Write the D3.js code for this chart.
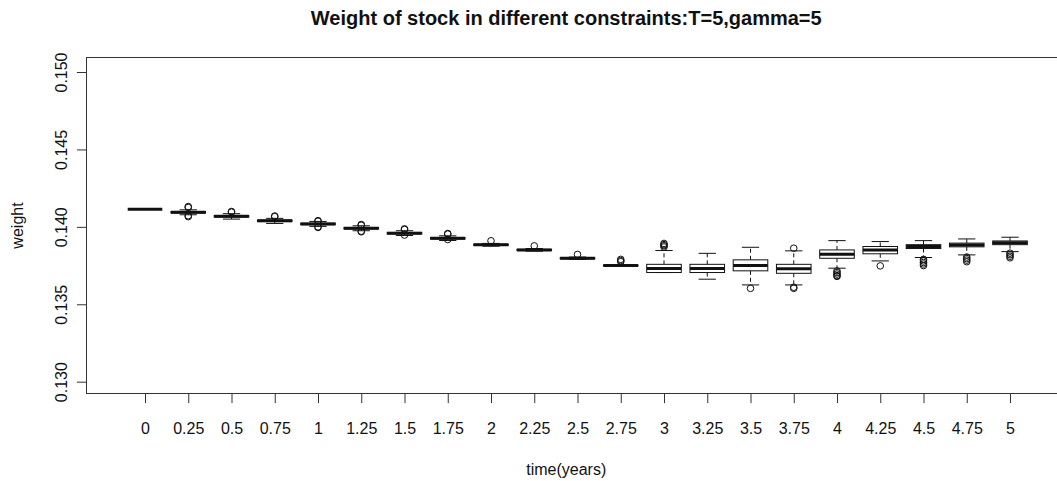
<!DOCTYPE html>
<html>
<head>
<meta charset="utf-8">
<script src="https://cdn.jsdelivr.net/npm/d3@7.9.0/dist/d3.min.js"></script>
<style>
  html, body { margin: 0; padding: 0; background: #fff; }
  svg { display: block; font-family: "Liberation Sans", Arial, sans-serif; }
</style>
</head>
<body>
<svg id="chart" width="1057" height="481"></svg>
<script>
// time points (x categories)
const times = ["0", "0.25", "0.5", "0.75", "1", "1.25", "1.5", "1.75", "2", "2.25", "2.5",
               "2.75", "3", "3.25", "3.5", "3.75", "4", "4.25", "4.5", "4.75", "5"];

// box statistics
const whiskerLo = [0.14114, 0.14078, 0.14050, 0.14022, 0.14003, 0.13975, 0.13944, 0.13912, 0.13875, 0.13843, 0.13790,
                   0.13745, 0.13705, 0.13662, 0.13625, 0.13625, 0.13733, 0.13780, 0.13802, 0.13819, 0.13840];
const q1        = [0.14114, 0.14089, 0.14063, 0.14034, 0.14014, 0.13986, 0.13954, 0.13921, 0.13880, 0.13847, 0.13793,
                   0.13747, 0.13705, 0.13705, 0.13716, 0.13700, 0.13797, 0.13826, 0.13860, 0.13871, 0.13885];
const median    = [0.14114, 0.14094, 0.14068, 0.14039, 0.14019, 0.13991, 0.13959, 0.13926, 0.13884, 0.13851, 0.13797,
                   0.13750, 0.13731, 0.13731, 0.13750, 0.13729, 0.13823, 0.13851, 0.13873, 0.13883, 0.13897];
const q3        = [0.14114, 0.14099, 0.14073, 0.14044, 0.14024, 0.13996, 0.13964, 0.13931, 0.13888, 0.13855, 0.13801,
                   0.13753, 0.13758, 0.13758, 0.13787, 0.13758, 0.13851, 0.13873, 0.13885, 0.13895, 0.13909];
const whiskerHi = [0.14114, 0.14110, 0.14085, 0.14055, 0.14035, 0.14007, 0.13975, 0.13942, 0.13893, 0.13860, 0.13805,
                   0.13755, 0.13847, 0.13829, 0.13868, 0.13845, 0.13911, 0.13905, 0.13911, 0.13922, 0.13933];
const outliers = [
  [],
  [0.14131, 0.14125, 0.14072, 0.14066],
  [0.14099, 0.14095],
  [0.14070, 0.14066],
  [0.14040, 0.14036, 0.14000, 0.13996],
  [0.14015, 0.14010, 0.13972, 0.13968],
  [0.13987, 0.13983, 0.13947],
  [0.13957, 0.13953, 0.13918],
  [0.13910],
  [0.13877],
  [0.13822],
  [0.13790, 0.13782, 0.13775],
  [0.13893, 0.13885, 0.13878, 0.13870],
  [],
  [0.13603],
  [0.13862, 0.13603, 0.13610],
  [0.13715, 0.13705, 0.13695, 0.13685, 0.13680],
  [0.13748],
  [0.13790, 0.13780, 0.13770, 0.13760, 0.13750],
  [0.13805, 0.13795, 0.13785, 0.13775],
  [0.13830, 0.13820, 0.13810, 0.13800]
];
const yTicks = [0.130, 0.135, 0.140, 0.145, 0.150];

const W = 1057, H = 481;
const frame = { left: 86.5, top: 57.5, bottom: 393.5, right: 1070 };
const ink = "#111";

const svg = d3.select("#chart");

const x = d3.scalePoint().domain(times).range([145, 1010]);
const y = d3.scaleLinear().domain([0.130, 0.150]).range([381.7, 72]);
const boxW = x.step() * 0.8;

const rows = times.map((t, i) => ({
  t, lo: whiskerLo[i], q1: q1[i], med: median[i], q3: q3[i], hi: whiskerHi[i], out: outliers[i]
}));

// frame
svg.append("rect")
  .attr("x", frame.left).attr("y", frame.top)
  .attr("width", frame.right - frame.left).attr("height", frame.bottom - frame.top)
  .attr("fill", "none").attr("stroke", "#333").attr("stroke-width", 1);

// axes
const xAxis = svg.append("g")
  .attr("transform", `translate(0,${frame.bottom})`)
  .call(d3.axisBottom(x).tickSize(9.6).tickSizeOuter(0));
xAxis.select(".domain").remove();
xAxis.selectAll(".tick line").attr("stroke", "#333");
xAxis.selectAll(".tick text")
  .attr("y", 40).attr("dy", 0)
  .attr("font-size", 16).attr("font-family", null).attr("fill", ink);

const yAxis = svg.append("g")
  .attr("transform", `translate(${frame.left},0)`)
  .call(d3.axisLeft(y).tickValues(yTicks).tickFormat(d3.format(".3f")).tickSize(9.6).tickSizeOuter(0));
yAxis.select(".domain").remove();
yAxis.selectAll(".tick line").attr("stroke", "#333");
yAxis.selectAll(".tick text")
  .attr("transform", "rotate(-90)")
  .attr("x", 0).attr("y", -19.5).attr("dy", 0)
  .attr("text-anchor", "middle")
  .attr("font-size", 16).attr("font-family", null).attr("fill", ink);

// boxes
const g = svg.append("g").attr("class", "boxes");
const box = g.selectAll("g.box").data(rows).join("g").attr("class", "box")
  .attr("transform", d => `translate(${x(d.t)},0)`);

// dashed whiskers
box.append("line").attr("y1", d => y(d.q3)).attr("y2", d => y(d.hi))
  .attr("stroke", ink).attr("stroke-dasharray", "4,3");
box.append("line").attr("y1", d => y(d.q1)).attr("y2", d => y(d.lo))
  .attr("stroke", ink).attr("stroke-dasharray", "4,3");
// staples
box.selectAll("line.cap").data(d => [d.hi, d.lo]).join("line").attr("class", "cap")
  .attr("x1", -boxW / 4).attr("x2", boxW / 4)
  .attr("y1", v => y(v)).attr("y2", v => y(v))
  .attr("stroke", ink);
// box body
box.append("rect")
  .attr("x", -boxW / 2).attr("width", boxW)
  .attr("y", d => y(d.q3)).attr("height", d => y(d.q1) - y(d.q3))
  .attr("fill", "#fff").attr("stroke", ink).attr("stroke-width", 1);
// median
box.append("line")
  .attr("x1", -boxW / 2).attr("x2", boxW / 2)
  .attr("y1", d => y(d.med)).attr("y2", d => y(d.med))
  .attr("stroke", ink).attr("stroke-width", 3);
// outliers
box.selectAll("circle").data(d => d.out).join("circle")
  .attr("cx", 0).attr("cy", v => y(v)).attr("r", 3.3)
  .attr("fill", "none").attr("stroke", ink).attr("stroke-width", 1);

// titles
const midX = (frame.left + 1046) / 2;
svg.append("text")
  .attr("x", midX).attr("y", 25)
  .attr("text-anchor", "middle")
  .attr("font-size", 20).attr("font-weight", "bold").attr("fill", ink)
  .text("Weight of stock in different constraints:T=5,gamma=5");

svg.append("text")
  .attr("x", midX).attr("y", 475)
  .attr("text-anchor", "middle")
  .attr("font-size", 16).attr("fill", ink)
  .text("time(years)");

svg.append("text")
  .attr("transform", `translate(23,${(frame.top + frame.bottom) / 2}) rotate(-90)`)
  .attr("text-anchor", "middle")
  .attr("font-size", 16).attr("fill", ink)
  .text("weight");
</script>
</body>
</html>
